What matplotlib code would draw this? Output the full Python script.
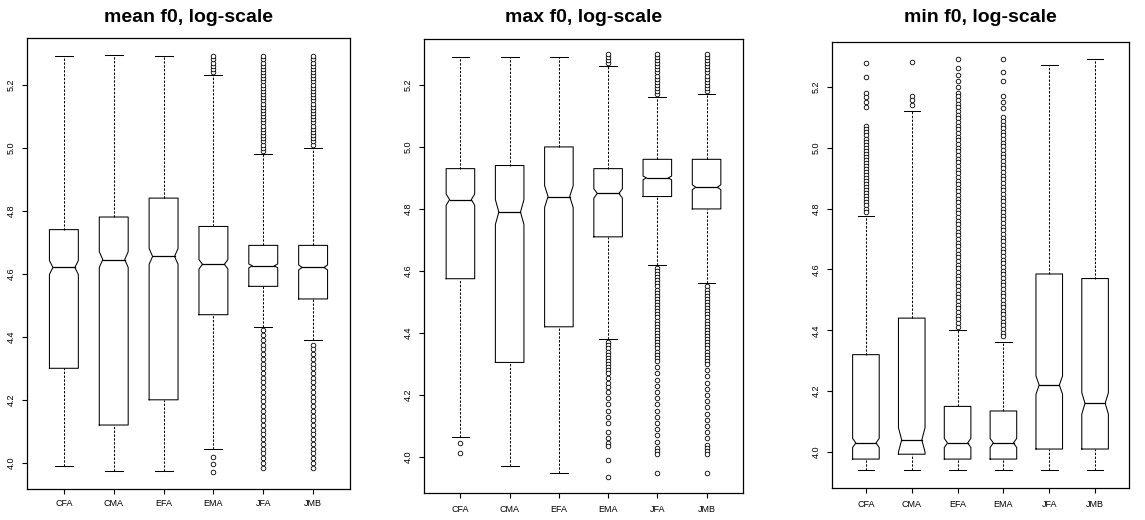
import numpy as np
import matplotlib.pyplot as plt

plt.rcParams['font.family'] = ['Liberation Sans', 'DejaVu Sans']

groups = ["CFA", "CMA", "EFA", "EMA", "JFA", "JMB"]
titles = ["mean f0, log-scale", "max f0, log-scale", "min f0, log-scale"]
yticks = [4.0, 4.2, 4.4, 4.6, 4.8, 5.0, 5.2]

# box stats per group: lower whisker, q1, median, q3, upper whisker, notch half height
mean_lo = [3.99, 3.975, 3.975, 4.045, 4.43, 4.39]
mean_q1 = [4.30, 4.12, 4.20, 4.47, 4.56, 4.52]
mean_med = [4.62, 4.645, 4.655, 4.63, 4.625, 4.62]
mean_q3 = [4.74, 4.78, 4.84, 4.75, 4.69, 4.69]
mean_hi = [5.29, 5.295, 5.29, 5.23, 4.98, 5.00]
mean_notch = [0.022, 0.025, 0.025, 0.015, 0.006, 0.008]
mean_out = {
    "EMA": [5.24, 5.25, 5.26, 5.27, 5.28, 5.29,
            4.02, 3.995, 3.97],
    "JFA": [4.99, 5.00, 5.01, 5.02, 5.03, 5.04, 5.05, 5.06, 5.07, 5.08, 5.09,
            5.10, 5.11, 5.12, 5.13, 5.14, 5.15, 5.16, 5.17, 5.18, 5.19, 5.20,
            5.21, 5.22, 5.23, 5.24, 5.25, 5.26, 5.27, 5.28, 5.29,
            4.42, 4.405, 4.39, 4.375, 4.36, 4.345, 4.33, 4.315, 4.30, 4.285,
            4.27, 4.255, 4.24, 4.225, 4.21, 4.195, 4.18, 4.165, 4.15, 4.135,
            4.12, 4.105, 4.09, 4.075, 4.06, 4.045, 4.03, 4.015, 4.00, 3.985],
    "JMB": [5.01, 5.02, 5.03, 5.04, 5.05, 5.06, 5.07, 5.08, 5.09, 5.10, 5.11,
            5.12, 5.13, 5.14, 5.15, 5.16, 5.17, 5.18, 5.19, 5.20, 5.21, 5.22,
            5.23, 5.24, 5.25, 5.26, 5.27, 5.28, 5.29,
            4.375, 4.36, 4.345, 4.33, 4.315, 4.30, 4.285, 4.27, 4.255, 4.24,
            4.225, 4.21, 4.195, 4.18, 4.165, 4.15, 4.135, 4.12, 4.105, 4.09,
            4.075, 4.06, 4.045, 4.03, 4.015, 4.00, 3.985],
}

max_lo = [4.065, 3.97, 3.95, 4.38, 4.62, 4.56]
max_q1 = [4.575, 4.305, 4.42, 4.71, 4.84, 4.80]
max_med = [4.83, 4.79, 4.84, 4.85, 4.90, 4.87]
max_q3 = [4.93, 4.94, 5.00, 4.93, 4.96, 4.96]
max_hi = [5.29, 5.29, 5.29, 5.26, 5.16, 5.17]
max_notch = [0.018, 0.04, 0.035, 0.015, 0.006, 0.008]
max_out = {
    "CFA": [4.045, 4.013],
    "EMA": [5.27, 5.28, 5.29, 5.30,
            4.37, 4.36, 4.35, 4.34, 4.33, 4.32, 4.31, 4.30, 4.29, 4.28, 4.27,
            4.255, 4.24, 4.225, 4.21, 4.19, 4.17, 4.15, 4.13, 4.11, 4.08, 4.06,
            4.045, 4.035, 3.99, 3.935],
    "JFA": [5.17, 5.18, 5.19, 5.20, 5.21, 5.22, 5.23, 5.24, 5.25, 5.26, 5.27,
            5.28, 5.29, 5.30,
            4.61, 4.60, 4.59, 4.58, 4.57, 4.56, 4.55, 4.54, 4.53, 4.52, 4.51,
            4.50, 4.49, 4.48, 4.47, 4.46, 4.45, 4.44, 4.43, 4.42, 4.41, 4.40,
            4.39, 4.38, 4.37, 4.36, 4.35, 4.34, 4.33, 4.32, 4.31,
            4.29, 4.27, 4.25, 4.23, 4.21, 4.19, 4.17, 4.15, 4.13, 4.11, 4.09,
            4.07, 4.05, 4.03, 4.02, 4.01, 3.95],
    "JMB": [5.18, 5.19, 5.20, 5.21, 5.22, 5.23, 5.24, 5.25, 5.26, 5.27, 5.28,
            5.29, 5.30,
            4.55, 4.54, 4.53, 4.52, 4.51, 4.50, 4.49, 4.48, 4.47, 4.46, 4.45,
            4.44, 4.43, 4.42, 4.41, 4.40, 4.39, 4.38, 4.37, 4.36, 4.35, 4.34,
            4.33, 4.32, 4.31, 4.30,
            4.28, 4.26, 4.24, 4.22, 4.20, 4.18, 4.16, 4.14, 4.12, 4.10, 4.08,
            4.06, 4.04, 4.03, 4.02, 4.01, 3.95],
}

min_lo = [3.94, 3.94, 3.94, 3.94, 3.94, 3.94]
min_q1 = [3.977, 3.993, 3.977, 3.977, 4.01, 4.01]
min_med = [4.03, 4.04, 4.03, 4.03, 4.22, 4.16]
min_q3 = [4.32, 4.44, 4.15, 4.135, 4.585, 4.57]
min_hi = [4.775, 5.12, 4.40, 4.36, 5.27, 5.29]
min_notch = [0.015, 0.04, 0.015, 0.015, 0.03, 0.035]
min_out = {
    "CFA": [5.277, 5.233, 5.18, 5.165, 5.15, 5.135,
            5.07, 5.06, 5.05, 5.04, 5.03, 5.02, 5.01, 5.00, 4.99, 4.98, 4.97,
            4.96, 4.95, 4.94, 4.93, 4.92, 4.91, 4.90, 4.89, 4.88, 4.87, 4.86,
            4.85, 4.84, 4.83, 4.82, 4.81, 4.80, 4.79],
    "CMA": [5.28, 5.17, 5.155, 5.14],
    "EFA": [5.29, 5.26, 5.24, 5.22, 5.20,
            5.18, 5.168, 5.156, 5.144, 5.132, 5.12, 5.108, 5.096, 5.084, 5.072,
            5.06, 5.048, 5.036, 5.024, 5.012, 5.00, 4.988, 4.976, 4.964, 4.952,
            4.94, 4.928, 4.916, 4.904, 4.892, 4.88, 4.868, 4.856, 4.844, 4.832,
            4.82, 4.808, 4.796, 4.784, 4.772, 4.76, 4.748, 4.736, 4.724, 4.712,
            4.70, 4.688, 4.676, 4.664, 4.652, 4.64, 4.628, 4.616, 4.604, 4.592,
            4.58, 4.568, 4.556, 4.544, 4.532, 4.52, 4.508, 4.496, 4.484, 4.472,
            4.46, 4.448, 4.436, 4.424, 4.412],
    "EMA": [5.29, 5.25, 5.22, 5.17, 5.15, 5.13,
            5.10, 5.088, 5.076, 5.064, 5.052, 5.04, 5.028, 5.016, 5.004, 4.992,
            4.98, 4.968, 4.956, 4.944, 4.932, 4.92, 4.908, 4.896, 4.884, 4.872,
            4.86, 4.848, 4.836, 4.824, 4.812, 4.80, 4.788, 4.776, 4.764, 4.752,
            4.74, 4.728, 4.716, 4.704, 4.692, 4.68, 4.668, 4.656, 4.644, 4.632,
            4.62, 4.608, 4.596, 4.584, 4.572, 4.56, 4.548, 4.536, 4.524, 4.512,
            4.50, 4.488, 4.476, 4.464, 4.452, 4.44, 4.428, 4.416, 4.404, 4.392,
            4.38],
}

panels = [
    (mean_lo, mean_q1, mean_med, mean_q3, mean_hi, mean_notch, mean_out),
    (max_lo, max_q1, max_med, max_q3, max_hi, max_notch, max_out),
    (min_lo, min_q1, min_med, min_q3, min_hi, min_notch, min_out),
]

# axes boxes in pixels: left, right, top, bottom
W, H = 1145, 520
boxes_px = [(27, 350, 38, 489), (424, 743, 39, 493), (832, 1129, 42, 488)]
ylims = [(3.917, 5.348), (3.884, 5.348), (3.882, 5.347)]


def draw_box(ax, x, lo, q1, med, q3, hi, nh, w=0.29, ind=0.07):
    l, r = x - w, x + w
    xs = [l, l, l + ind, l, l, r, r, r - ind, r, r, l]
    ys = [q1, med - nh, med, med + nh, q3, q3, med + nh, med, med - nh, q1, q1]
    ax.plot(xs, ys, color='black', lw=0.75)
    ax.plot([l + ind, r - ind], [med, med], color='black', lw=0.9)
    dash = (0, (2.2, 1.5))
    ax.plot([x, x], [q3, hi], color='black', lw=0.75, ls=dash)
    ax.plot([x, x], [lo, q1], color='black', lw=0.75, ls=dash)
    ax.plot([x - 0.18, x + 0.18], [hi, hi], color='black', lw=0.75)
    ax.plot([x - 0.18, x + 0.18], [lo, lo], color='black', lw=0.75)


fig = plt.figure(figsize=(W / 100, H / 100), dpi=100)

for k, (lo, q1, med, q3, hi, notch, out) in enumerate(panels):
    left, right, top, bottom = boxes_px[k]
    ax = fig.add_axes([left / W, 1 - bottom / H, (right - left) / W, (bottom - top) / H])
    pos = np.arange(1, len(groups) + 1)
    for i, g in enumerate(groups):
        draw_box(ax, pos[i], lo[i], q1[i], med[i], q3[i], hi[i], notch[i])
        if g in out:
            ax.plot([pos[i]] * len(out[g]), out[g], ls='none', marker='o', ms=3.3,
                    mfc='white', mec='black', mew=0.6)
    ax.set_xlim(0.26, 6.74)
    ax.set_ylim(*ylims[k])
    ax.set_xticks(pos)
    ax.set_xticklabels(groups, fontsize=6.5)
    ax.set_yticks(yticks)
    ax.set_yticklabels([f"{v:.1f}" for v in yticks], fontsize=6.5, rotation=90, va='center')
    ax.tick_params(axis='x', length=3.5, width=0.8, pad=3.5 if k == 0 else 5.0)
    ax.tick_params(axis='y', length=3.5, width=0.8, pad=4.5)
    for s in ax.spines.values():
        s.set_linewidth(0.9)
    fig.text((left + right) / 2 / W, 1 - 18 / H, titles[k], ha='center', va='center',
             fontsize=14, fontweight='bold')

fig.savefig("out.png", dpi=100)
